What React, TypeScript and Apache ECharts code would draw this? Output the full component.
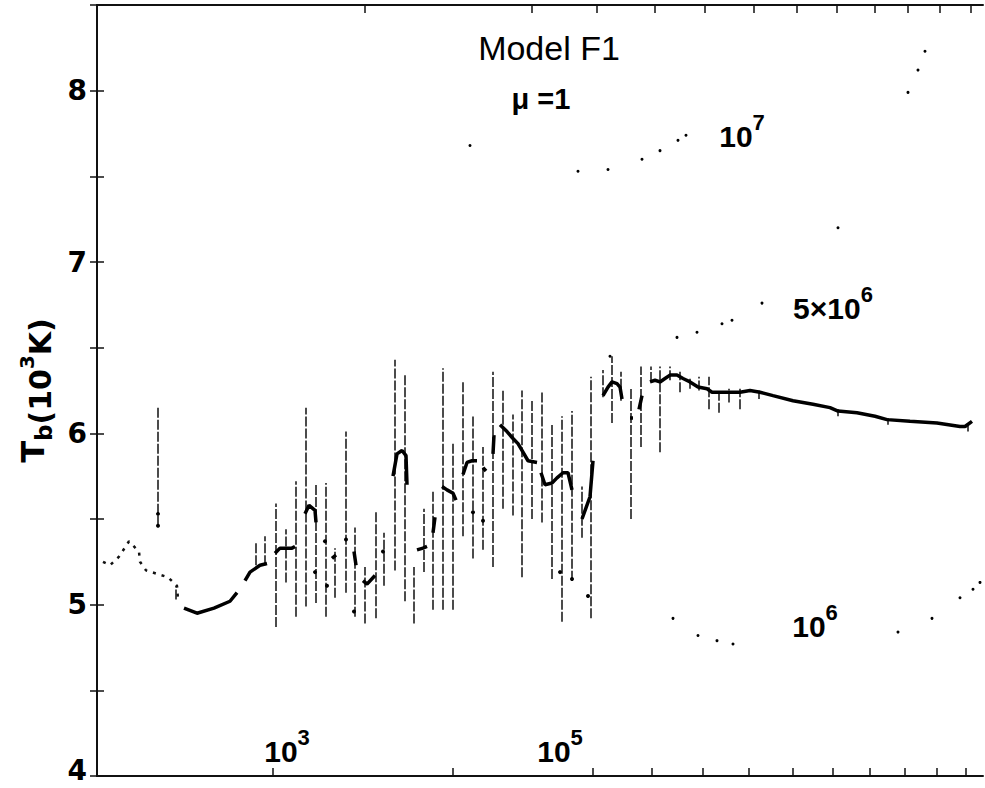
import React, { useEffect, useRef } from "react";
import * as echarts from "echarts";

// x: horizontal position along the abscissa (arbitrary units 0..886), y: Tb in 10^3 K
const xMin = 0;
const xMax = 886;
const yMin = 4;
const yMax = 8.5;

const topTickX = [268, 435, 500, 558, 608, 657, 700, 740, 778, 811, 843, 874];
const bottomTickX = [176, 356, 496, 555, 606, 652, 696, 736, 773, 808, 840, 869];

// left wavy dotted part of the Tb curve
const leftCurveX = [6, 13, 22, 32, 42, 43, 49, 71, 80, 81];
const leftCurveY = [5.25, 5.23, 5.28, 5.37, 5.31, 5.25, 5.2, 5.16, 5.11, 5.03];

// main Tb curve (null = gap)
const curveX = [
  87, 100, 117, 133, 140, null,
  148, 153, 163, 170, null,
  178, 183, 195, 198, null,
  208, 212, 218, 219, null,
  235, 239, null,
  257, 259, null,
  266, 270, 278, null,
  296, 300, 305, 309, 310, null,
  320, 326, 330, null,
  336, 338, null,
  345, 350, 356, 359, null,
  366, 370, 375, 380, null,
  386, 389, null,
  396, 397, null,
  403, 410, 416, 421, 426, 431, 440, null,
  444, 448, 455, 460, 466, 471, 475, null,
  485, 493, 496, null,
  506, 511, 515, 520, 523, 525, null,
  533, 536, null,
  542, 545, null,
  553, 558, 563, 568, 573, 580, 586, 593, 601, 610, 615, 623, 643, 653, 663, 676, 696, 716, 733, 741, 760, 778, 790, 813, 840, 863, 868, 875,
];
const curveY = [
  4.98, 4.95, 4.98, 5.02, 5.07, null,
  5.14, 5.19, 5.23, 5.24, null,
  5.3, 5.33, 5.33, 5.34, null,
  5.53, 5.58, 5.55, 5.48, null,
  5.27, 5.29, null,
  5.31, 5.23, null,
  5.14, 5.12, 5.17, null,
  5.75, 5.88, 5.9, 5.87, 5.7, null,
  5.32, 5.33, 5.34, null,
  5.42, 5.51, null,
  5.69, 5.67, 5.65, 5.61, null,
  5.76, 5.83, 5.84, 5.84, null,
  5.8, 5.78, null,
  5.88, 5.99, null,
  6.05, 6.01, 5.97, 5.94, 5.89, 5.84, 5.83, null,
  5.77, 5.7, 5.71, 5.74, 5.77, 5.77, 5.67, null,
  5.5, 5.63, 5.84, null,
  6.22, 6.27, 6.3, 6.29, 6.27, 6.2, null,
  6.09, 6.09, null,
  6.14, 6.22, null,
  6.3, 6.31, 6.3, 6.32, 6.34, 6.34, 6.32, 6.3, 6.27, 6.26, 6.24, 6.24, 6.24, 6.25, 6.24, 6.22, 6.19, 6.17, 6.15, 6.13, 6.12, 6.1, 6.08, 6.07, 6.06, 6.04, 6.04, 6.07,
];

// isolated points
const dotX = [61, 61, 218, 230, 228, 249, 257, 286, 376, 386, 463, 475, 491];
const dotY = [5.46, 5.53, 5.19, 5.11, 5.37, 5.38, 4.96, 5.31, 5.54, 5.49, 5.19, 5.15, 5.05];

// vertical error bars
const errX = [61, 79, 159, 168, 179, 189, 199, 209, 219, 229, 238, 249, 258, 268, 279, 287, 298, 308, 317, 327, 336, 346, 356, 366, 376, 386, 396, 406, 416, 425, 435, 445, 455, 465, 475, 485, 494, 506, 515, 524, 534, 544, 554, 563, 573, 583, 593, 602, 612, 622, 632, 643, 662, 741, 791, 871];
const errLo = [5.46, 5.03, 5.23, 5.23, 4.87, 5.13, 4.93, 4.99, 5.01, 4.93, 5.04, 5.07, 4.93, 4.89, 4.92, 5.11, 5.2, 5.02, 4.89, 5.19, 4.97, 4.97, 4.97, 5.4, 5.27, 5.32, 5.22, 5.56, 5.52, 5.16, 5.5, 5.48, 5.15, 4.9, 5.14, 5.39, 4.92, 6.21, 6.06, 6.19, 5.5, 5.92, 6.3, 5.89, 6.31, 6.24, 6.26, 6.25, 6.14, 6.12, 6.18, 6.14, 6.2, 6.1, 6.05, 6.01];
const errHi = [6.15, 5.11, 5.37, 5.4, 5.59, 5.44, 5.72, 6.15, 5.7, 5.71, 5.33, 6.01, 5.45, 5.22, 5.54, 5.42, 6.43, 6.34, 5.22, 5.56, 5.66, 6.38, 5.95, 6.3, 6.11, 5.92, 6.36, 6.26, 6.11, 6.25, 6.19, 6.25, 6.05, 6.1, 6.13, 5.69, 6.33, 6.37, 6.45, 6.36, 6.27, 6.39, 6.39, 6.39, 6.39, 6.36, 6.33, 6.33, 6.33, 6.24, 6.26, 6.26, 6.25, 6.14, 6.09, 6.05];

// dotted reference curves
const c7X = [373, 481, 511, 545, 563, 581, 589, 811, 821, 828];
const c7Y = [7.68, 7.53, 7.54, 7.6, 7.65, 7.71, 7.74, 7.99, 8.12, 8.23];
const c5X = [513, 580, 600, 625, 635, 665, 741];
const c5Y = [6.45, 6.56, 6.59, 6.64, 6.66, 6.76, 7.2];
const c6X = [576, 601, 620, 636, 801, 835, 863, 876, 883];
const c6Y = [4.92, 4.82, 4.79, 4.77, 4.84, 4.92, 5.04, 5.09, 5.13];

// text labels
const labelTexts = ["{t|Model F1}", "{m|μ =1}", "{n|10}{s|7}", "{n|5×10}{s|6}", "{n|10}{s|6}", "{n|10}{s|3}", "{n|10}{s|5}"];
const labelX = [452, 444, 645, 736, 718, 190, 463];
const labelY = [8.25, 7.95, 7.76, 6.76, 4.9, 4.17, 4.17];

const FONT = "'Liberation Sans', Arial, sans-serif";
const BOLDFONT = "'DejaVu Sans', sans-serif";

export default function App() {
  const ref = useRef<HTMLDivElement>(null);
  useEffect(() => {
    if (!ref.current) return;
    const chart = echarts.init(ref.current, null, { renderer: "svg" });
    const curveData = curveX.map((x, i) => (x === null || curveY[i] === null ? ["-", "-"] : [x, curveY[i]]));
    const rich = {
      t: { fontSize: 34, fontFamily: FONT, color: "#000" },
      m: { fontSize: 29, fontFamily: FONT, color: "#000", fontWeight: "bold" },
      n: { fontSize: 30, fontFamily: FONT, color: "#000", fontWeight: "bold", lineHeight: 40, verticalAlign: "bottom" },
      s: { fontSize: 22, fontFamily: FONT, color: "#000", fontWeight: "bold", lineHeight: 21, verticalAlign: "top" },
    };
    const option: any = {
      animation: false,
      backgroundColor: "#fff",
      grid: { left: 97, right: 2, top: 5, bottom: 12, containLabel: false },
      xAxis: [
        {
          type: "value", position: "bottom", min: xMin, max: xMax,
          axisLine: { show: true, lineStyle: { color: "#111", width: 2 } },
          axisTick: { show: true, inside: true, length: 8, customValues: bottomTickX, lineStyle: { color: "#111", width: 1.5 } },
          axisLabel: { show: false },
          splitLine: { show: false },
        },
        {
          type: "value", position: "top", min: xMin, max: xMax,
          axisLine: { show: true, lineStyle: { color: "#111", width: 2 } },
          axisTick: { show: true, inside: true, length: 8, customValues: topTickX, lineStyle: { color: "#111", width: 1.5 } },
          axisLabel: { show: false },
          splitLine: { show: false },
        },
      ],
      yAxis: [
        {
          type: "value", position: "left", min: yMin, max: yMax, interval: 0.5,
          axisLine: { show: true, lineStyle: { color: "#222", width: 1.5, type: [6, 5] } },
          axisTick: { show: true, inside: true, length: 7, lineStyle: { color: "#111", width: 1.5 } },
          axisLabel: {
            show: true, margin: 10, color: "#000",
            formatter: (v: number) => {
              if (Math.abs(v - Math.round(v)) > 1e-6 || v > 8.4) return "";
              return Math.round(v) === 4 ? "{low|4}" : "{d|" + Math.round(v) + "}";
            },
            rich: {
              d: { fontSize: 28, fontWeight: "bold", fontFamily: BOLDFONT, color: "#000" },
              low: { fontSize: 28, fontWeight: "bold", fontFamily: BOLDFONT, color: "#000", padding: [0, 0, 12, 0] },
            },
          },
          splitLine: { show: false },
          name: "{t|T}{b|b}{p|(10}{s|3}{p|K)}",
          nameLocation: "middle",
          nameRotate: 90,
          nameGap: 42,
          nameTextStyle: {
            rich: {
              t: { fontSize: 32, fontFamily: BOLDFONT, fontWeight: "bold", color: "#000", lineHeight: 38, verticalAlign: "top" },
              b: { fontSize: 23, fontFamily: BOLDFONT, fontWeight: "bold", color: "#000", lineHeight: 23, verticalAlign: "bottom" },
              p: { fontSize: 30, fontFamily: BOLDFONT, fontWeight: "bold", color: "#000", lineHeight: 38, verticalAlign: "bottom" },
              s: { fontSize: 20, fontFamily: BOLDFONT, fontWeight: "bold", color: "#000", lineHeight: 20, verticalAlign: "top" },
            },
          },
        },
        {
          type: "value", position: "right", min: yMin, max: yMax, interval: 0.5,
          axisLine: { show: true, lineStyle: { color: "#111", width: 2 } },
          axisTick: { show: true, inside: true, length: 7, lineStyle: { color: "#111", width: 1.5 } },
          axisLabel: { show: false },
          splitLine: { show: false },
        },
      ],
      series: [
        {
          type: "custom",
          name: "error bars",
          xAxisIndex: 0, yAxisIndex: 0,
          encode: { x: 0, y: [1, 2] },
          data: errX.map((x, i) => [x, errLo[i], errHi[i]]),
          renderItem: (params: any, api: any) => {
            const p1 = api.coord([api.value(0), api.value(1)]);
            const p2 = api.coord([api.value(0), api.value(2)]);
            return {
              type: "line",
              shape: { x1: p1[0], y1: p1[1], x2: p2[0], y2: p2[1] },
              style: { stroke: "#111", lineWidth: 1.5, lineDash: [10, 2] },
            };
          },
          z: 2,
        },
        {
          type: "line", name: "Tb left",
          data: leftCurveX.map((x, i) => [x, leftCurveY[i]]),
          showSymbol: false, symbol: "none",
          lineStyle: { color: "#111", width: 2.5, type: [3, 6] },
          z: 3,
        },
        {
          type: "line", name: "Tb",
          data: curveData,
          connectNulls: false,
          showSymbol: false, symbol: "none",
          lineStyle: { color: "#000", width: 3.5 },
          z: 3,
        },
        {
          type: "scatter", name: "points",
          data: dotX.map((x, i) => [x, dotY[i]]),
          symbolSize: 4,
          itemStyle: { color: "#000", opacity: 1 },
          z: 3,
        },
        {
          type: "scatter", name: "1e7",
          data: c7X.map((x, i) => [x, c7Y[i]]),
          symbolSize: 3, itemStyle: { color: "#000", opacity: 1 },
        },
        {
          type: "scatter", name: "5e6",
          data: c5X.map((x, i) => [x, c5Y[i]]),
          symbolSize: 3, itemStyle: { color: "#000", opacity: 1 },
        },
        {
          type: "scatter", name: "1e6",
          data: c6X.map((x, i) => [x, c6Y[i]]),
          symbolSize: 3, itemStyle: { color: "#000", opacity: 1 },
        },
        {
          type: "scatter", name: "labels",
          data: labelX.map((x, i) => [x, labelY[i]]),
          symbolSize: 1,
          itemStyle: { color: "rgba(0,0,0,0)", opacity: 1 },
          label: {
            show: true, position: "inside", color: "#000",
            formatter: (p: any) => labelTexts[p.dataIndex],
            rich,
          },
          emphasis: { disabled: true },
          z: 5,
        },
      ],
    };
    chart.setOption(option);
    return () => chart.dispose();
  }, []);
  return (
    <div
      ref={ref}
      style={{ position: "fixed", left: 0, top: 0, width: 985, height: 788, background: "#fff" }}
    />
  );
}
